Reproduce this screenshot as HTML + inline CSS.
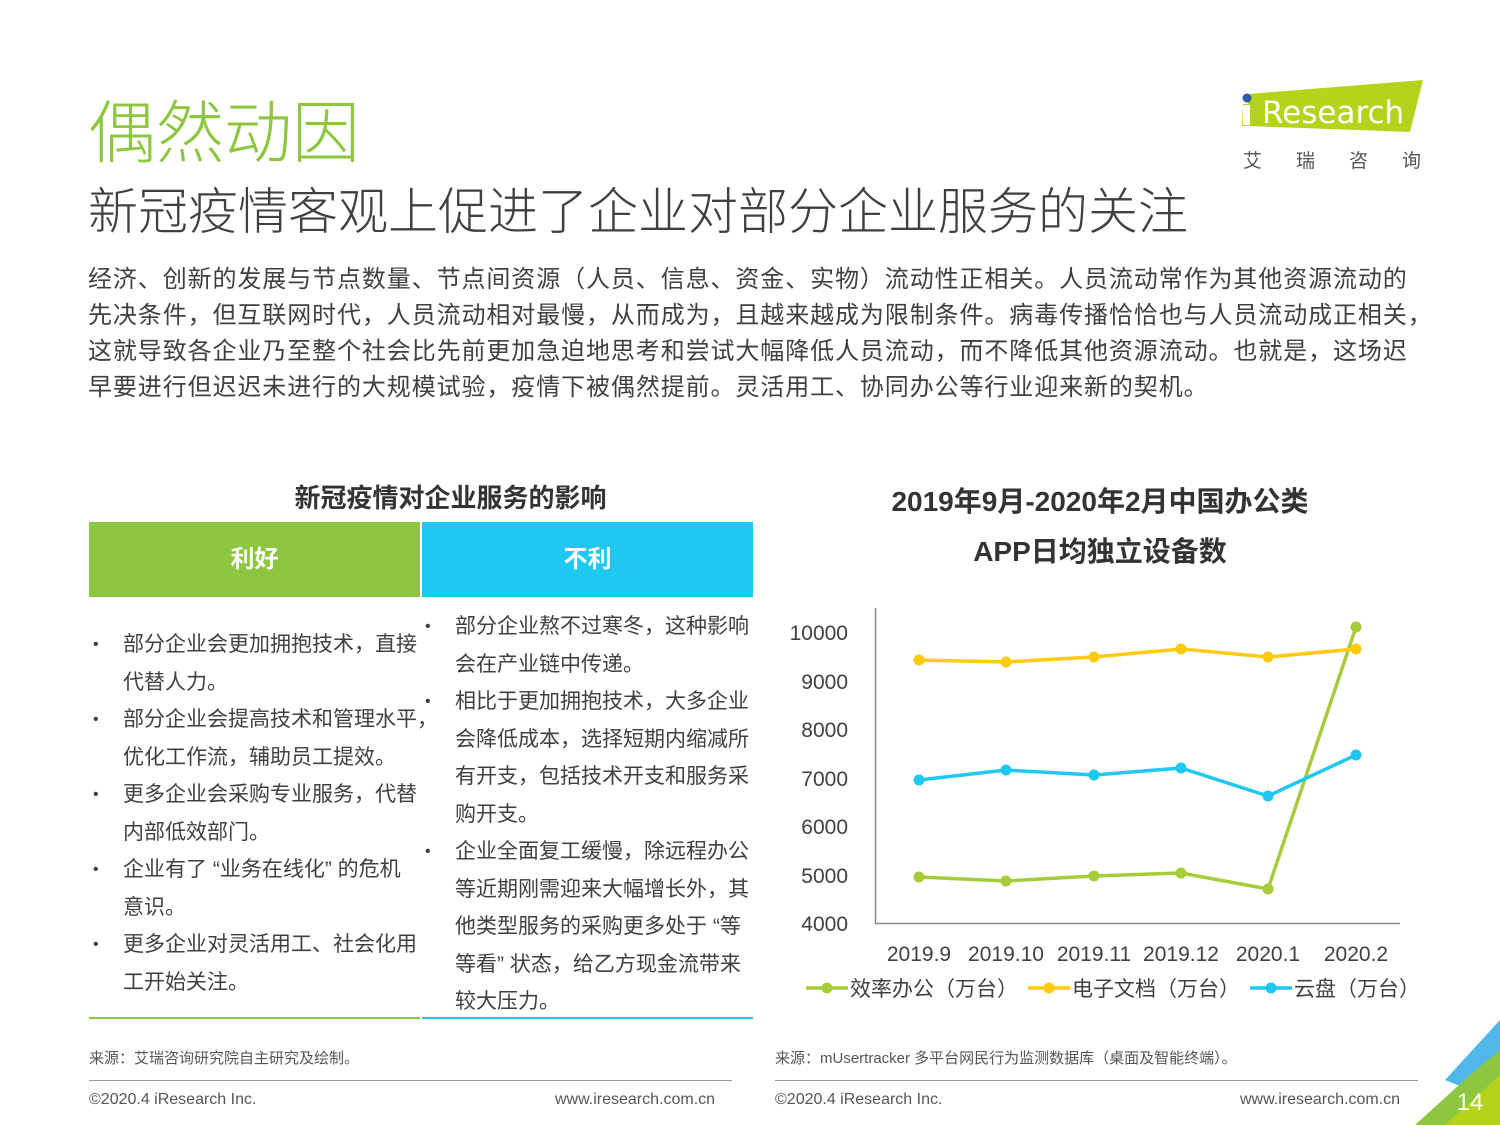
<!DOCTYPE html>
<html><head><meta charset="utf-8"><style>
*{margin:0;padding:0}
body{width:1500px;height:1125px;background:#fff;position:relative;overflow:hidden;font-family:"Liberation Sans","Noto Sans CJK SC",sans-serif;color:#404040}
.a{position:absolute;white-space:nowrap}
.li{position:absolute;font-size:21px;line-height:37.5px;color:#404040;white-space:nowrap}
.li div{padding-left:34px;position:relative}
.li div.b:before{content:"•";position:absolute;left:4px;font-size:16px}
</style></head><body>
<div class="a" style="left:88px;top:78px;font-size:68px;color:#8dc63f;font-family:'Noto Sans CJK SC',sans-serif;font-weight:300">偶然动因</div>
<div class="a" style="left:88px;top:172px;font-size:50px;color:#404040;font-family:'Noto Sans CJK SC',sans-serif;font-weight:300">新冠疫情客观上促进了企业对部分企业服务的关注</div>
<div class="a" style="left:88px;top:262px;font-size:24px;letter-spacing:0.9px;line-height:36px;color:#404040;white-space:nowrap">经济、创新的发展与节点数量、节点间资源（人员、信息、资金、实物）流动性正相关。人员流动常作为其他资源流动的<br>先决条件，但互联网时代，人员流动相对最慢，从而成为，且越来越成为限制条件。病毒传播恰恰也与人员流动成正相关，<br>这就导致各企业乃至整个社会比先前更加急迫地思考和尝试大幅降低人员流动，而不降低其他资源流动。也就是，这场迟<br>早要进行但迟迟未进行的大规模试验，疫情下被偶然提前。灵活用工、协同办公等行业迎来新的契机。</div>
<!-- logo -->
<svg class="a" style="left:1240px;top:80px" width="190" height="60"><polygon points="8,14 183,0 170,52 8,46" fill="#b5d31a"/><polygon points="3,24 12,24 10,46 2,46" fill="#b5d31a"/><circle cx="7" cy="18" r="4.5" fill="#2a5caa"/><text x="22" y="43" font-size="31" fill="#fff" font-family="DejaVu Sans">Research</text><rect x="3" y="25" width="7" height="20" fill="#fff"/></svg>
<div class="a" style="left:1243px;top:146px;font-size:19px;color:#555;letter-spacing:34px">艾瑞咨询</div>
<!-- table -->
<div class="a" style="left:88px;top:478px;width:725px;text-align:center;font-size:26px;font-weight:bold;color:#333">新冠疫情对企业服务的影响</div>
<div class="a" style="left:89px;top:522px;width:331px;height:75px;background:#8dc63f;color:#fff;font-size:24px;font-weight:bold;line-height:75px;text-align:center">利好</div>
<div class="a" style="left:422px;top:522px;width:331px;height:75px;background:#1ec8f0;color:#fff;font-size:24px;font-weight:bold;line-height:75px;text-align:center">不利</div>
<div class="a" style="left:89px;top:1017px;width:331px;height:2px;background:#8dc63f"></div>
<div class="a" style="left:422px;top:1017px;width:331px;height:2px;background:#1ec8f0"></div>
<div class="li" style="left:89px;top:626px"><div class="b">部分企业会更加拥抱技术，直接</div><div>代替人力。</div><div class="b">部分企业会提高技术和管理水平，</div><div>优化工作流，辅助员工提效。</div><div class="b">更多企业会采购专业服务，代替</div><div>内部低效部门。</div><div class="b">企业有了 “业务在线化” 的危机</div><div>意识。</div><div class="b">更多企业对灵活用工、社会化用</div><div>工开始关注。</div></div>
<div class="li" style="left:421px;top:608px"><div class="b">部分企业熬不过寒冬，这种影响</div><div>会在产业链中传递。</div><div class="b">相比于更加拥抱技术，大多企业</div><div>会降低成本，选择短期内缩减所</div><div>有开支，包括技术开支和服务采</div><div>购开支。</div><div class="b">企业全面复工缓慢，除远程办公</div><div>等近期刚需迎来大幅增长外，其</div><div>他类型服务的采购更多处于 “等</div><div>等看” 状态，给乙方现金流带来</div><div>较大压力。</div></div>
<!-- chart -->
<div class="a" style="left:800px;top:477px;width:600px;text-align:center;font-size:28px;font-weight:bold;line-height:50px;color:#333">2019年9月-2020年2月中国办公类<br>APP日均独立设备数</div>
<svg class="a" style="left:0;top:0" width="1500" height="1125">
<g font-family="Liberation Sans" font-size="21" fill="#404040" text-anchor="end">
<text x="848" y="640">10000</text><text x="848" y="689">9000</text><text x="848" y="737">8000</text><text x="848" y="786">7000</text><text x="848" y="834">6000</text><text x="848" y="883">5000</text><text x="848" y="931">4000</text></g>
<line x1="875.5" y1="608" x2="875.5" y2="923" stroke="#888" stroke-width="1.5"/>
<line x1="875" y1="923.5" x2="1400" y2="923.5" stroke="#888" stroke-width="1.5"/>
<g font-family="Liberation Sans" font-size="21" fill="#404040" text-anchor="middle">
<text x="919" y="961">2019.9</text><text x="1006" y="961">2019.10</text><text x="1094" y="961">2019.11</text><text x="1181" y="961">2019.12</text><text x="1268" y="961">2020.1</text><text x="1356" y="961">2020.2</text></g>
<polyline points="919,877 1006,881 1094,876 1181,873 1268,889 1356,627" fill="none" stroke="#a5cd39" stroke-width="3.5"/>
<polyline points="919,660 1006,662 1094,657 1181,649 1268,657 1356,649" fill="none" stroke="#ffc90e" stroke-width="3.5"/>
<polyline points="919,780 1006,770 1094,775 1181,768 1268,796 1356,755" fill="none" stroke="#1ec8f0" stroke-width="3.5"/>
<g fill="#a5cd39"><circle cx="919" cy="877" r="5.5"/><circle cx="1006" cy="881" r="5.5"/><circle cx="1094" cy="876" r="5.5"/><circle cx="1181" cy="873" r="5.5"/><circle cx="1268" cy="889" r="5.5"/><circle cx="1356" cy="627" r="5.5"/></g>
<g fill="#ffc90e"><circle cx="919" cy="660" r="5.5"/><circle cx="1006" cy="662" r="5.5"/><circle cx="1094" cy="657" r="5.5"/><circle cx="1181" cy="649" r="5.5"/><circle cx="1268" cy="657" r="5.5"/><circle cx="1356" cy="649" r="5.5"/></g>
<g fill="#1ec8f0"><circle cx="919" cy="780" r="5.5"/><circle cx="1006" cy="770" r="5.5"/><circle cx="1094" cy="775" r="5.5"/><circle cx="1181" cy="768" r="5.5"/><circle cx="1268" cy="796" r="5.5"/><circle cx="1356" cy="755" r="5.5"/></g>
<line x1="806" y1="988" x2="848" y2="988" stroke="#a5cd39" stroke-width="3.5"/><circle cx="827" cy="988" r="5.5" fill="#a5cd39"/>
<line x1="1028" y1="988" x2="1070" y2="988" stroke="#ffc90e" stroke-width="3.5"/><circle cx="1049" cy="988" r="5.5" fill="#ffc90e"/>
<line x1="1250" y1="988" x2="1292" y2="988" stroke="#1ec8f0" stroke-width="3.5"/><circle cx="1271" cy="988" r="5.5" fill="#1ec8f0"/>
<g font-family="Liberation Sans,Noto Sans CJK SC,sans-serif" font-size="21" fill="#404040">
<text x="850" y="996">效率办公（万台）</text><text x="1072" y="996">电子文档（万台）</text><text x="1294" y="996">云盘（万台）</text></g>
<!-- corner -->
<polygon points="1445,1080 1500,1020 1500,1060 1470,1090" fill="#4fb8e8"/>
<polygon points="1415,1125 1470,1075 1500,1050 1500,1125" fill="#8dc63f"/>
<polygon points="1445,1125 1500,1075 1500,1125" fill="#b5d31a"/>
<text x="1470" y="1110" font-family="Liberation Sans" font-size="24" fill="#fff" text-anchor="middle">14</text>
</svg>
<!-- footers -->
<div class="a" style="left:89px;top:1047px;font-size:15px;color:#555">来源：艾瑞咨询研究院自主研究及绘制。</div>
<div class="a" style="left:775px;top:1047px;font-size:15px;color:#555">来源：mUsertracker 多平台网民行为监测数据库（桌面及智能终端）。</div>
<div class="a" style="left:89px;top:1080px;width:643px;height:1px;background:#999"></div>
<div class="a" style="left:775px;top:1080px;width:643px;height:1px;background:#999"></div>
<div class="a" style="left:89px;top:1091px;font-size:16px;color:#555">©2020.4 iResearch Inc.</div>
<div class="a" style="left:555px;top:1091px;font-size:16px;color:#555">www.iresearch.com.cn</div>
<div class="a" style="left:775px;top:1091px;font-size:16px;color:#555">©2020.4 iResearch Inc.</div>
<div class="a" style="left:1240px;top:1091px;font-size:16px;color:#555">www.iresearch.com.cn</div>
</body></html>
